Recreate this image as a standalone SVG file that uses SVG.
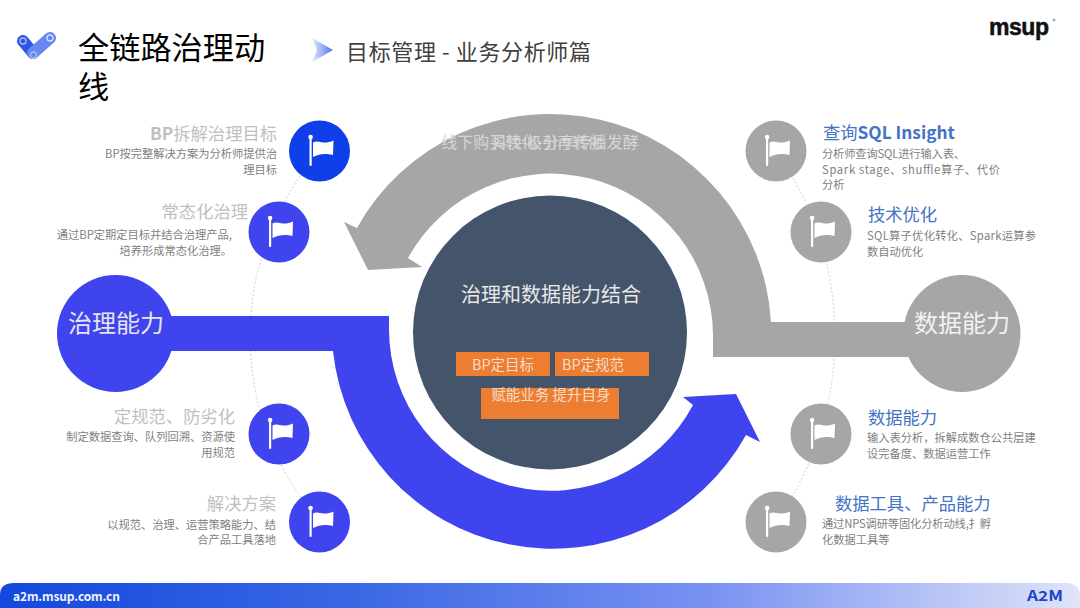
<svg xmlns="http://www.w3.org/2000/svg" width="1080" height="608" viewBox="0 0 1080 608">
<style>
text{font-family:"Noto Sans CJK SC","Noto Sans",sans-serif}
.lt{font-size:17.3px;fill:#bfbfbf;text-anchor:end;dominant-baseline:central}
.ld{font-size:11.25px;fill:#7f7f7f;text-anchor:end;dominant-baseline:central}
.rt{font-size:17.3px;fill:#4472c4;dominant-baseline:central}
.rd{font-size:11.25px;fill:#7f7f7f;dominant-baseline:central}
.ot{font-size:14.5px;fill:#f6dcc8;text-anchor:middle;dominant-baseline:central}
.dot{fill:none;stroke:#d0d0d0;stroke-width:1;stroke-dasharray:2 2}
.blue{fill:#3f44ee}.gray{fill:#a6a6a6}.org{fill:#ed7d31}
.big{font-size:24px;fill:#e6e6ee;text-anchor:middle;dominant-baseline:central}
</style>
<defs>
<g id="flag">
<rect x="-10" y="-14" width="2.2" height="29" rx="1" fill="#fff"/>
<circle cx="-8.9" cy="-14" r="2.3" fill="#fff"/>
<path d="M-6.5 -8.5C-1 -12 3 -5.5 14 -10.5L13.5 4C5 2 0 3 -6.5 6Z" fill="#fff"/>
</g>
<linearGradient id="bar" x1="0" y1="0" x2="1" y2="0">
<stop offset="0" stop-color="#1448de"/><stop offset=".33" stop-color="#3a68e4"/><stop offset=".66" stop-color="#7a92f2"/><stop offset="1" stop-color="#dfe4f8"/>
</linearGradient>
<linearGradient id="tri" x1="0" y1="0" x2="1" y2="0">
<stop offset="0" stop-color="#e4e9fb"/><stop offset="1" stop-color="#4f74e6"/>
</linearGradient>
</defs>
<rect width="1080" height="608" fill="#fff"/>

<g id="header">
<g id="logo-check">
<path d="M23 41L33 53" stroke="#2f55e4" stroke-width="12" stroke-linecap="round" fill="none"/>
<path d="M33 53L50 38" stroke="#6488f0" stroke-width="12" stroke-linecap="round" fill="none"/>
<circle cx="23" cy="41" r="3" fill="none" stroke="#a9bdf7" stroke-width="1.3"/>
<circle cx="33.500" cy="55" r="3" fill="none" stroke="#a9bdf7" stroke-width="1.3"/>
<circle cx="50" cy="38" r="3" fill="none" stroke="#d5def9" stroke-width="1.3"/>
</g>
<text x="78" y="59" font-size="31.200" fill="#000">全链路治理动</text>
<text x="78" y="98" font-size="31.200" fill="#000">线</text>
<path d="M312 38L333 50L312 62L317 50Z" fill="url(#tri)"/>
<text x="346" y="60" font-size="22" fill="#404040" textLength="245">目标管理 - 业务分析师篇</text>
<text x="989" y="35" font-size="23" font-weight="700" fill="#111" stroke="#111" stroke-width=".5" style="font-family:'Liberation Sans',sans-serif" textLength="60">msup</text>
<circle cx="1054" cy="20" r="1.500" fill="#aaa"/>
</g>

<g id="connectors">
<path class="dot" d="M320 151A281 281 0 0 0 320 522"/>
<path class="dot" d="M776 151A321 321 0 0 1 776 522"/>
<path id="gray-arrow" class="gray" d="M930 322L771 322A221 221 0 0 0 357 228L344 222L368 270L422 267L408 258A162.500 162.500 0 0 1 713 335L713 357L930 357Z"/>
<path id="blue-arrow" class="blue" d="M160 316L389 316L389 330A161.400 161.400 0 0 0 693 405L683 397L736 394L760 442L746 435A221 221 0 0 1 333 351L160 351Z"/>
</g>
<text x="540" y="140.500" font-size="16" fill="#d6d6d6" text-anchor="middle" dominant-baseline="central">线下购买转化-分享传播发酵</text>
<text x="547" y="141.500" font-size="15" fill="#d6d6d6" text-anchor="middle" dominant-baseline="central">抖快-吸引再转化</text>

<g id="center">
<circle cx="550" cy="332.500" r="137" fill="#44546a"/>
<text x="551" y="293" font-size="20" fill="#e8e8e8" text-anchor="middle" dominant-baseline="central">治理和数据能力结合</text>
<rect class="org" x="456" y="352" width="94" height="24"/>
<text class="ot" x="503" y="363">BP定目标</text>
<rect class="org" x="555" y="352" width="94" height="24"/>
<text class="ot" x="593" y="363">BP定规范</text>
<rect class="org" x="481" y="388" width="138" height="31"/>
<text class="ot" x="551" y="393">赋能业务 提升自身</text>
</g>

<g id="governance"><circle class="blue" cx="115.500" cy="333.500" r="58.500"/><text class="big" x="116" y="321.500">治理能力</text></g>
<g id="data"><circle class="gray" cx="962" cy="333.500" r="58.500"/><text class="big" x="962" y="321.500" style="fill:#f2f2f2">数据能力</text></g>

<g id="l1"><circle cx="319.500" cy="151" r="30.500" fill="#0f3fe8"/><use href="#flag" x="319.500" y="151"/>
<text class="lt" x="277" y="132"><tspan font-weight="700">BP</tspan>拆解治理目标</text>
<text class="ld" x="277" y="153">BP按完整解决方案为分析师提供治</text><text class="ld" x="277" y="169">理目标</text></g>
<g id="l2"><circle class="blue" cx="279" cy="232" r="30.500"/><use href="#flag" x="279" y="232"/>
<text class="lt" x="248" y="210">常态化治理</text>
<text class="ld" x="232" y="234">通过BP定期定目标并结合治理产品,</text><text class="ld" x="232" y="250">培养形成常态化治理。</text></g>
<g id="l3"><circle class="blue" cx="279" cy="434" r="30.500"/><use href="#flag" x="279" y="434"/>
<text class="lt" x="235" y="415">定规范、防劣化</text>
<text class="ld" x="235" y="436">制定数据查询、队列回溯、资源使</text><text class="ld" x="235" y="452">用规范</text></g>
<g id="l4"><circle class="blue" cx="319.500" cy="522" r="30.500"/><use href="#flag" x="319.500" y="522"/>
<text class="lt" x="276" y="502">解决方案</text>
<text class="ld" x="276" y="524">以规范、治理、运营策略能力、结</text><text class="ld" x="276" y="539">合产品工具落地</text></g>

<g id="r1"><circle class="gray" cx="776" cy="151" r="30.500"/><use href="#flag" x="776" y="151"/>
<text class="rt" x="823" y="131">查询<tspan font-weight="700">SQL Insight</tspan></text>
<text class="rd" x="822" y="153" textLength="143">分析师查询SQL进行输入表、</text><text class="rd" x="822" y="169" textLength="178">Spark stage、shuffle算子、代价</text><text class="rd" x="822" y="184">分析</text></g>
<g id="r2"><circle class="gray" cx="821" cy="232" r="30.500"/><use href="#flag" x="821" y="232"/>
<text class="rt" x="868" y="213">技术优化</text>
<text class="rd" x="867" y="235" textLength="169">SQL算子优化转化、Spark运算参</text><text class="rd" x="867" y="251">数自动优化</text></g>
<g id="r3"><circle class="gray" cx="821" cy="434" r="30.500"/><use href="#flag" x="821" y="434"/>
<text class="rt" x="868" y="416">数据能力</text>
<text class="rd" x="867" y="437">输入表分析，拆解成数仓公共层建</text><text class="rd" x="867" y="453">设完备度、数据运营工作</text></g>
<g id="r4"><circle class="gray" cx="776" cy="522" r="30.500"/><use href="#flag" x="776" y="522"/>
<text class="rt" x="835" y="502">数据工具、产品能力</text>
<text class="rd" x="822" y="523" textLength="169">通过NPS调研等固化分析动线,扌孵</text><text class="rd" x="822" y="539">化数据工具等</text></g>

<g id="footer">
<path d="M0 608L0 595Q0 583 14 583L1066 583Q1080 583 1080 597L1080 608Z" fill="url(#bar)"/>
<text x="13" y="595.500" font-size="12" font-weight="700" fill="#f0f4ff" dominant-baseline="central" textLength="107">a2m.msup.com.cn</text>
<text x="1027" y="595" font-size="14" font-weight="700" fill="#1a44c8" dominant-baseline="central" textLength="36" lengthAdjust="spacingAndGlyphs">A2M</text>
</g>
</svg>
